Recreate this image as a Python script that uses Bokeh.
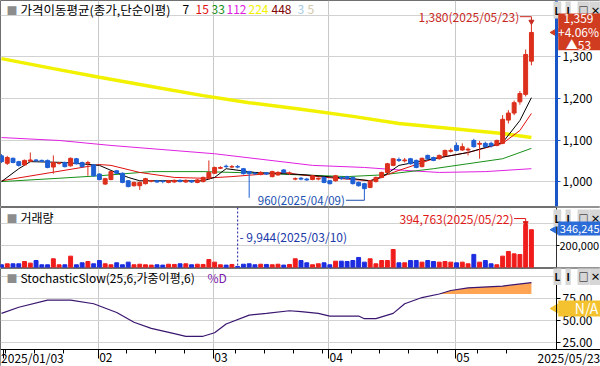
import datetime as dt
from bokeh.plotting import figure
from bokeh.layouts import column
from bokeh.models import (Range1d, FixedTicker, NumeralTickFormatter, Label, Span,
                          ColumnDataSource, BoxAnnotation)
from bokeh.embed import file_html
from bokeh.resources import INLINE

YEAR = 2025
jan_days = [3, 6, 7, 8, 9, 10, 13, 14, 15, 16, 17, 20, 21, 22, 23, 24, 31]
feb_days = [3, 4, 5, 6, 7, 10, 11, 12, 13, 14, 17, 18, 19, 20, 21, 24, 25, 26, 27, 28]
mar_days = [4, 5, 6, 7, 10, 11, 12, 13, 14, 17, 18, 19, 20, 21, 24, 25, 26, 27, 28, 31]
apr_days = [1, 2, 3, 4, 7, 8, 9, 10, 11, 14, 15, 16, 17, 18, 21, 22, 23, 24, 25, 28, 29, 30]
may_days = [2, 7, 8, 9, 12, 13, 14, 15, 16, 19, 20, 21, 22, 23]
month_days = [(1, jan_days), (2, feb_days), (3, mar_days), (4, apr_days), (5, may_days)]
month_labels = ["02", "03", "04", "05"]

opens = [1062, 1044, 1056, 1048, 1040, 1049, 1052, 1051, 1051, 1035, 1044, 1046, 1038, 1055, 1046, 1044, 1040,
         1018, 994, 1005, 1026, 1020, 1002, 990, 990, 995, 1001, 1002, 1001, 998, 999, 1003, 999, 1002, 998, 1000, 1008,
         1020, 1032, 1037, 1035, 1036, 1031, 1024, 1020, 1017, 1021, 1012, 1016, 1028, 1019, 1006, 1008, 1006, 1005, 1006, 1010,
         1002, 1002, 1010, 1012, 1010, 998, 995, 986, 1000, 1010, 1022, 1039, 1053, 1050, 1055, 1051, 1036, 1063, 1058, 1055, 1063, 1073,
         1087, 1076, 1076, 1099, 1090, 1092, 1092, 1087, 1092, 1148, 1165, 1192, 1210, 1290]
highs = [1066, 1062, 1058, 1050, 1053, 1070, 1054, 1053, 1053, 1063, 1047, 1048, 1058, 1057, 1048, 1050, 1042,
         1020, 1009, 1026, 1028, 1022, 1004, 1000, 1000, 1009, 1004, 1004, 1004, 1004, 1005, 1005, 1005, 1004, 1006, 1012, 1051,
         1036, 1037, 1041, 1040, 1040, 1033, 1026, 1023, 1025, 1023, 1026, 1025, 1030, 1024, 1010, 1011, 1009, 1016, 1010, 1012,
         1004, 1016, 1013, 1014, 1012, 1000, 997, 1004, 1012, 1024, 1045, 1057, 1058, 1057, 1057, 1053, 1058, 1065, 1060, 1065, 1077, 1080,
         1094, 1092, 1082, 1103, 1098, 1096, 1096, 1101, 1160, 1172, 1195, 1218, 1318, 1380]
lows = [1045, 1040, 1044, 1036, 1038, 1047, 1048, 1047, 1032, 1019, 1041, 1034, 1036, 1041, 1034, 1014, 1012,
        1003, 992, 1003, 1018, 996, 986, 988, 980, 993, 998, 997, 996, 996, 997, 998, 997, 997, 996, 998, 1005,
        1018, 1030, 1033, 1032, 1032, 1017, 961, 1016, 1015, 1016, 1010, 1014, 1020, 1016, 1003, 1003, 1002, 1003, 1003, 996,
        993, 1000, 1004, 1005, 993, 988, 960, 984, 998, 1008, 1020, 1037, 1047, 1046, 1041, 1032, 1034, 1053, 1049, 1053, 1061, 1070,
        1073, 1074, 1063, 1082, 1055, 1082, 1082, 1085, 1090, 1140, 1160, 1185, 1205, 1280]
closes = [1048, 1058, 1046, 1039, 1051, 1052, 1050, 1049, 1034, 1046, 1045, 1036, 1056, 1043, 1036, 1046, 1014,
          1005, 1007, 1024, 1020, 998, 988, 998, 998, 1007, 1002, 999, 1000, 1002, 1003, 1000, 1003, 999, 1004, 1010, 1022,
          1034, 1034, 1036, 1036, 1035, 1019, 1019, 1019, 1022, 1018, 1024, 1022, 1022, 1021, 1007, 1006, 1004, 1014, 1008, 998,
          995, 1014, 1008, 1007, 995, 990, 983, 1002, 1010, 1022, 1043, 1055, 1051, 1052, 1043, 1034, 1056, 1055, 1051, 1063, 1075, 1075,
          1075, 1084, 1078, 1084, 1092, 1084, 1086, 1099, 1150, 1165, 1190, 1212, 1306, 1359]
volumes = [25000, 34000, 34000, 34000, 55000, 40000, 64000, 25000, 25000, 80000,
           25000, 25000, 104000, 25000, 43000, 55000, 34000, 64000, 34000, 25000,
           43000, 25000, 49000, 25000, 30000, 25000, 22000, 25000, 22000, 30000,
           28000, 34000, 34000, 25000, 30000, 28000, 73000, 49000, 25000, 22000,
           28000, 9944, 30000, 34000, 25000, 30000, 28000, 25000, 30000, 22000,
           28000, 80000, 64000, 43000, 25000, 34000, 43000, 25000, 58000, 58000,
           55000, 64000, 92000, 49000, 80000, 34000, 64000, 64000, 165000, 43000,
           43000, 64000, 64000, 49000, 64000, 55000, 49000, 55000, 49000, 43000,
           49000, 34000, 120000, 49000, 64000, 34000, 25000, 104000, 147000, 125000,
           119000, 394763, 346245]

# moving averages (index, value)
ma7_x = [0, 3, 5, 11, 17, 19, 22, 24, 35, 37, 39, 44, 52, 61, 64, 66, 69, 75, 81, 87, 90, 92]
ma7_y = [1000, 1031, 1048, 1046, 1039, 1027, 1010, 1002, 1002, 1010, 1031, 1022, 1017, 1007, 1002, 1010, 1039, 1055, 1070, 1094, 1147, 1202]
ma15_x = [0, 17, 19, 24, 30, 35, 40, 49, 52, 58, 64, 69, 75, 81, 87, 90, 92]
ma15_y = [1002, 1041, 1039, 1022, 1010, 1008, 1012, 1022, 1016, 1008, 1002, 1027, 1055, 1070, 1092, 1123, 1164]
ma33_x = [0, 10, 17, 26, 35, 43, 52, 60, 66, 75, 81, 87, 92]
ma33_y = [1000, 1008, 1014, 1024, 1024, 1021, 1016, 1012, 1016, 1031, 1043, 1055, 1080]
ma112_x = [0, 10, 19, 37, 54, 63, 70, 76, 84, 92]
ma112_y = [1106, 1099, 1087, 1067, 1039, 1034, 1027, 1022, 1024, 1031]
ma224_x = [0, 9, 17, 26, 35, 43, 52, 61, 69, 78, 87, 92]
ma224_y = [1296, 1272, 1251, 1229, 1207, 1190, 1174, 1157, 1140, 1128, 1116, 1106]

stoch_x = [0, 3, 8, 12, 16, 20, 23, 26, 30, 32, 35, 37, 39, 43, 46, 50, 52, 55, 57, 62, 63, 65, 68, 70, 73, 76, 78, 81, 87, 92]
stoch_y = [58, 65, 73, 73, 69, 59, 48, 41, 35, 32, 32, 36, 46, 56, 58, 61, 60, 58, 55, 55, 52, 52, 58, 69, 76, 80, 84, 87, 89, 93]
stoch_level = 80
stoch_now = "N/A"

ma_names = ["7", "15", "33", "112", "224", "448", "3", "5"]
ma_colors = ["#000000", "#e01010", "#189018", "#e020e0", "#f2f200", "#800000", "#a8cce8", "#d2c8a8"]

price_ticks = [1000, 1100, 1200, 1300, 1400]
vol_ticks = [200000, 400000]
stoch_ticks = [25, 50, 75, 100]

# ---------------------------------------------------------------
FONT = "Noto Sans CJK KR"
UP, DOWN = "#dc2f1c", "#1f5fd4"
VUP, VDOWN = "#f01c1c", "#1c2ce0"
W = 600                 # frame width (chart + price-scale strip)
STEP = 5.76             # px per trading day
X0 = -1 / STEP
AXIS_X = X0 + 556 / STEP
X1 = X0 + W / STEP
TAG_X = X0 + 578 / STEP

dates = [dt.date(YEAR, m, d) for m, ds in month_days for d in ds]
n = len(dates)
xs = list(range(n))
month_starts = []
pos = 0
for m, ds in month_days:
    if m != 1:
        month_starts.append(pos)
    pos += len(ds)
grid_x = [i - 0.2 for i in month_starts]
mondays = [i - 0.3 for i, d in enumerate(dates) if d.weekday() == 0 and i not in month_starts]

xr = Range1d(X0, X1)


def make_fig(fh, ylo, yhi, ticks, bottom, xaxis=None, axis_bounds=None, label_size="12px"):
    p = figure(frame_width=W, frame_height=fh, x_range=xr, y_range=Range1d(ylo, yhi),
               x_axis_location=xaxis, y_axis_location="right", output_backend="svg",
               toolbar_location=None, min_border_left=0, min_border_right=0,
               min_border_top=0, min_border_bottom=bottom)
    p.background_fill_color = "white"
    p.border_fill_color = "white"
    p.outline_line_color = "#707070"
    p.xgrid.ticker = FixedTicker(ticks=grid_x)
    p.xgrid.grid_line_color = "#c8c8c8"
    p.ygrid.grid_line_color = "#d2d2d2"
    p.add_layout(BoxAnnotation(left=AXIS_X, fill_color="white", fill_alpha=1.0,
                               line_alpha=0, level="underlay"))
    ax = p.yaxis[0]
    ax.fixed_location = AXIS_X
    if axis_bounds is not None:
        ax.bounds = axis_bounds
    ax.ticker = FixedTicker(ticks=ticks)
    ax.major_tick_out = 4
    ax.major_tick_in = 0
    ax.minor_tick_out = 0
    ax.minor_tick_in = 0
    ax.major_label_standoff = 2
    ax.major_label_text_font = FONT
    ax.major_label_text_font_size = label_size
    ax.major_label_text_color = "#000000"
    return p


def lab(p, text, x, y, xu="screen", yu="screen", color="#000000", size="12px",
        align="left", baseline="middle", bg=None, bold=False, pad=None):
    l = Label(x=x, y=y, x_units=xu, y_units=yu, text=text, text_color=color,
              text_font=FONT, text_font_size=size, text_align=align,
              text_baseline=baseline, text_font_style="bold" if bold else "normal")
    if bg is not None:
        l.background_fill_color = bg
        if pad is not None:
            l.padding = pad
    p.add_layout(l)


def buttons(p, y):
    for k, t in enumerate(["L", "I", "□", "×"]):
        lab(p, t, 553 + k * 12, y, size="10px", bold=True, bg="#d6d6d6", pad=1, align="left")


def tag(p, y, top, bottom, color):
    p.add_layout(BoxAnnotation(left=AXIS_X + 0.3, top=top, bottom=bottom, fill_color=color,
                               fill_alpha=1.0, line_alpha=0))
    p.scatter([AXIS_X - 0.2], [y], marker="triangle", angle=1.5708, size=9,
              fill_color=color, line_color=color)


fmt = lambda d: d.strftime("%Y/%m/%d")

# ---------------- price panel ----------------
PH = 206
p1 = make_fig(PH, 940, 1436, price_ticks, 1)
p1.yaxis.formatter = NumeralTickFormatter(format="0,0")
p1.yaxis.major_label_overrides = {1400: ""}
p1.yaxis.axis_line_color = "#1a56c8"
p1.yaxis.axis_line_width = 3
p1.yaxis.major_tick_line_color = "#1a56c8"

p1.line(ma224_x, ma224_y, line_color=ma_colors[4], line_width=3.5)
p1.line(ma112_x, ma112_y, line_color=ma_colors[3], line_width=1)
p1.line(ma33_x, ma33_y, line_color=ma_colors[2], line_width=1)
p1.line(ma15_x, ma15_y, line_color=ma_colors[1], line_width=1)
p1.line(ma7_x, ma7_y, line_color=ma_colors[0], line_width=1)

cols = [UP if c >= o else DOWN for o, c in zip(opens, closes)]
src = ColumnDataSource(dict(x=xs, o=opens, h=highs, l=lows, c=closes,
                            top=[max(o, c) for o, c in zip(opens, closes)],
                            bot=[min(o, c) for o, c in zip(opens, closes)], color=cols))
p1.segment(x0="x", y0="l", x1="x", y1="h", line_color="color", line_width=1, source=src)
p1.vbar(x="x", width=0.68, top="top", bottom="bot", fill_color="color", line_color="color", source=src)

hi_i = highs.index(max(highs))
lo_i = lows.index(min(lows))
hv, lv = highs[hi_i], lows[lo_i]
lab(p1, f"{hv:,}({fmt(dates[hi_i])})", hi_i - 2.1, hv + 17, xu="data", yu="data", color="#c8281e", align="right")
p1.segment(x0=[hi_i - 2], y0=[hv + 17], x1=[hi_i], y1=[hv + 17], line_color="#c8281e")
p1.segment(x0=[hi_i], y0=[hv + 17], x1=[hi_i], y1=[hv + 4], line_color="#c8281e")
p1.scatter([hi_i], [hv + 5], marker="inverted_triangle", size=5, color="#c8281e")
lab(p1, f"{lv:,}({fmt(dates[lo_i])})", lo_i - 3.4, lv - 5, xu="data", yu="data",
    color="#2050b0", align="right", size="11.5px")
p1.segment(x0=[lo_i - 3.2], y0=[lv - 5], x1=[lo_i], y1=[lv - 5], line_color="#2050b0")
p1.segment(x0=[lo_i], y0=[lv - 5], x1=[lo_i], y1=[lv], line_color="#2050b0")

# header
lab(p1, "■", 6, PH - 9, color="#8c8c8c", size="11px")
lab(p1, "가격이동평균(종가,단순이평)", 20, PH - 9, size="12.5px")
for name, col, hx in zip(ma_names, ma_colors, [182, 195, 211, 226, 248, 271, 297, 307]):
    lab(p1, name, hx, PH - 9, color=col)
buttons(p1, PH - 9.5)

last, prev = closes[-1], closes[-2]
chg = last - prev
tag(p1, last, last + 46, last - 43, "#d03c20")
lab(p1, f"{last:,}", TAG_X, last + 34, xu="data", yu="data", color="#ffffff", size="12px", align="center")
lab(p1, f"+{chg / prev * 100:.2f}%", TAG_X, last + 2, xu="data", yu="data", color="#ffffff", size="12px", align="center")
lab(p1, f"▲{chg}", TAG_X, last - 29, xu="data", yu="data", color="#ffffff", size="12px", align="center")

# ---------------- volume panel ----------------
VH = 60
p2 = make_fig(VH, 0, 550000, vol_ticks, 1, label_size="11px")
p2.yaxis.formatter = NumeralTickFormatter(format="0,0")
p2.yaxis.major_label_overrides = {400000: ""}
p2.yaxis.axis_line_color = "#303030"
p2.yaxis.major_tick_out = 3
p2.yaxis.major_label_standoff = 0
vcols = [VUP if c >= o else VDOWN for o, c in zip(opens, closes)]
p2.vbar(x=xs, top=volumes, bottom=0, width=0.68, fill_color=vcols, line_color=vcols)

vmax_i = volumes.index(max(volumes))
vmin_i = volumes.index(min(volumes))
vm = volumes[vmax_i]
lab(p2, f"{vm:,}({fmt(dates[vmax_i])})", vmax_i - 2.1, vm + 54000, xu="data", yu="data", color="#e01818", align="right")
p2.segment(x0=[vmax_i - 2], y0=[vm + 54000], x1=[vmax_i], y1=[vm + 54000], line_color="#e01818")
p2.segment(x0=[vmax_i], y0=[vm + 54000], x1=[vmax_i], y1=[vm + 10000], line_color="#e01818")
p2.scatter([vmax_i], [vm + 12000], marker="inverted_triangle", size=5, color="#e01818")
p2.add_layout(Span(location=vmin_i, dimension="height", line_color="#1a1a9a", line_dash="2 2", line_width=1))
lab(p2, f"- {volumes[vmin_i]:,}({fmt(dates[vmin_i])})", vmin_i + 0.3, 284000, xu="data", yu="data", color="#2038a8")

lab(p2, "■", 6, VH - 10, color="#8c8c8c", size="11px")
lab(p2, "거래량", 20, VH - 10)
buttons(p2, VH - 10.5)
vlast = volumes[-1]
tag(p2, vlast, vlast + 75000, vlast - 53000, "#2c6cd8")
lab(p2, f"{vlast:,}", TAG_X + 0.2, vlast + 11000, xu="data", yu="data", color="#ffffff", size="11px", align="center")

# ---------------- stochastic panel ----------------
SH = 98
S_LO, S_HI, S_BOTTOM = 17, 109, -2.3
p3 = make_fig(SH, S_BOTTOM, S_HI, stoch_ticks, 0, xaxis="below", axis_bounds=(S_LO, S_HI))
p3.yaxis.formatter = NumeralTickFormatter(format="0.00")
p3.yaxis.major_label_overrides = {100: ""}
p3.yaxis.axis_line_color = "#000000"
p3.add_layout(BoxAnnotation(top=S_LO, fill_color="white", fill_alpha=1.0, line_alpha=0, level="underlay"))
xa = p3.xaxis[0]
xa.fixed_location = S_LO
xa.ticker = FixedTicker(ticks=[X0 + 0.45] + grid_x, minor_ticks=mondays)
xa.major_label_overrides = {t: "" for t in [X0 + 0.45] + grid_x}
xa.axis_line_color = "#000000"
xa.major_tick_out = 9
xa.major_tick_in = 0
xa.minor_tick_out = 4
xa.minor_tick_in = 0
xa.major_tick_line_color = "#000000"
xa.minor_tick_line_color = "#000000"

fx = [x for x, y in zip(stoch_x, stoch_y) if y >= stoch_level]
fy = [y for y in stoch_y if y >= stoch_level]
p3.varea(x=fx, y1=[stoch_level] * len(fx), y2=fy, fill_color="#ffa452")
p3.line(stoch_x, stoch_y, line_color="#3a1670", line_width=1.2)

lab(p3, "■", 6, SH - 9, color="#8c8c8c", size="11px")
lab(p3, "StochasticSlow(25,6,가중이평,6)", 20, SH - 9)
lab(p3, "%D", 207, SH - 9, color="#7a1aa8")
buttons(p3, SH - 8)
tag(p3, 63.6, 72.7, 54.5, "#f4c22e")
lab(p3, stoch_now, X0 + 586 / STEP, 63.6, xu="data", yu="data", color="#ffffff", size="14px", align="center")

date_y = 7.4
lab(p3, fmt(dates[0]), X0 + 0.1, date_y, xu="data", yu="data")
for ms, ml in zip(grid_x, month_labels):
    lab(p3, ml, ms + 0.15, date_y, xu="data", yu="data")
lab(p3, fmt(dates[-1]), X1 - 0.05, date_y, xu="data", yu="data", align="right")

layout = column(p1, p2, p3, spacing=0)
open("out.html", "w").write(file_html(layout, INLINE))
